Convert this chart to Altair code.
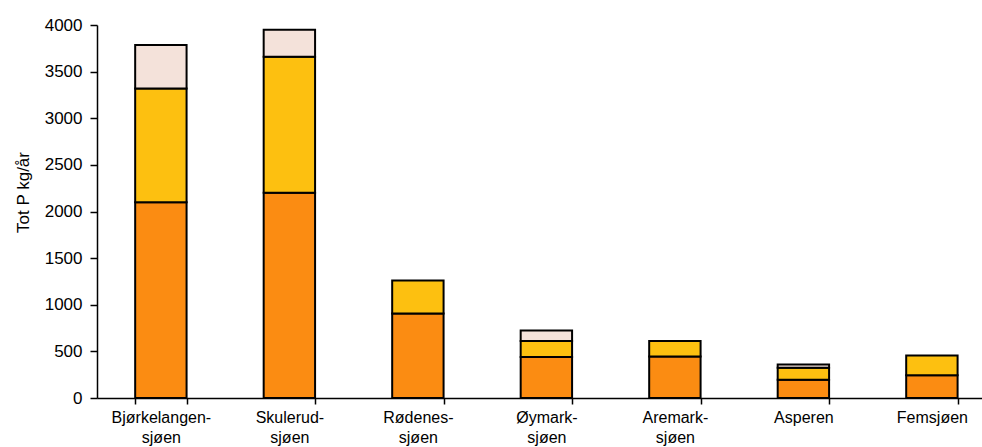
import altair as alt
import pandas as pd

categories = ["Bjørkelangen-|sjøen", "Skulerud-|sjøen", "Rødenes-|sjøen",
              "Øymark-|sjøen", "Aremark-|sjøen", "Asperen", "Femsjøen"]
bottom_vals = [2100, 2200, 905, 440, 445, 195, 245]
middle_vals = [1220, 1460, 355, 170, 165, 130, 210]
top_vals = [465, 290, 0, 115, 0, 35, 0]
series = ["Kilde 1", "Kilde 2", "Kilde 3"]
colors = ["#FB8C12", "#FDC010", "#F4E2DA"]
y_ticks = [0, 500, 1000, 1500, 2000, 2500, 3000, 3500, 4000]

rows = []
for i, c in enumerate(categories):
    for j, (s, vals) in enumerate(zip(series, [bottom_vals, middle_vals, top_vals])):
        if vals[i] > 0:
            rows.append({"kategori": c, "serie": s, "verdi": vals[i], "rekke": j})
df = pd.DataFrame(rows)

FONT = "Liberation Sans"

chart = alt.Chart(df).mark_bar(stroke="black", strokeWidth=2).encode(
    x=alt.X("kategori:N", sort=categories,
            scale=alt.Scale(paddingInner=0.6, paddingOuter=0.2435, align=0.61),
            axis=alt.Axis(title=None, labelAngle=0, labelExpr="split(datum.label, '|')",
                          tickBand="extent", tickSize=6, tickColor="black", tickWidth=1.5,
                          domainColor="black", domainWidth=1.5,
                          labelFont=FONT, labelFontSize=16, labelColor="black",
                          labelPadding=5, labelLineHeight=20)),
    y=alt.Y("sum(verdi):Q",
            scale=alt.Scale(domain=[0, 4000], nice=False),
            axis=alt.Axis(title="Tot P kg/år", values=y_ticks, grid=False, format="d",
                          tickSize=7, tickColor="black", tickWidth=1.5,
                          domainColor="black", domainWidth=1.5,
                          labelFont=FONT, labelFontSize=17, labelColor="black",
                          labelPadding=8, titleFont=FONT, titleFontSize=17,
                          titleFontWeight="normal", titleColor="black", titlePadding=12,
                          titleY=167)),
    color=alt.Color("serie:N", scale=alt.Scale(domain=series, range=colors), legend=None),
    order=alt.Order("rekke:Q", sort="ascending"),
).properties(
    width=885, height=373,
    background="white",
    autosize=alt.AutoSizeParams(type="none"),
    padding={"left": 97, "top": 25, "right": 0, "bottom": 49},
).configure_view(stroke=None)

chart.save("out.html", embed_options={"renderer": "svg", "actions": False})
